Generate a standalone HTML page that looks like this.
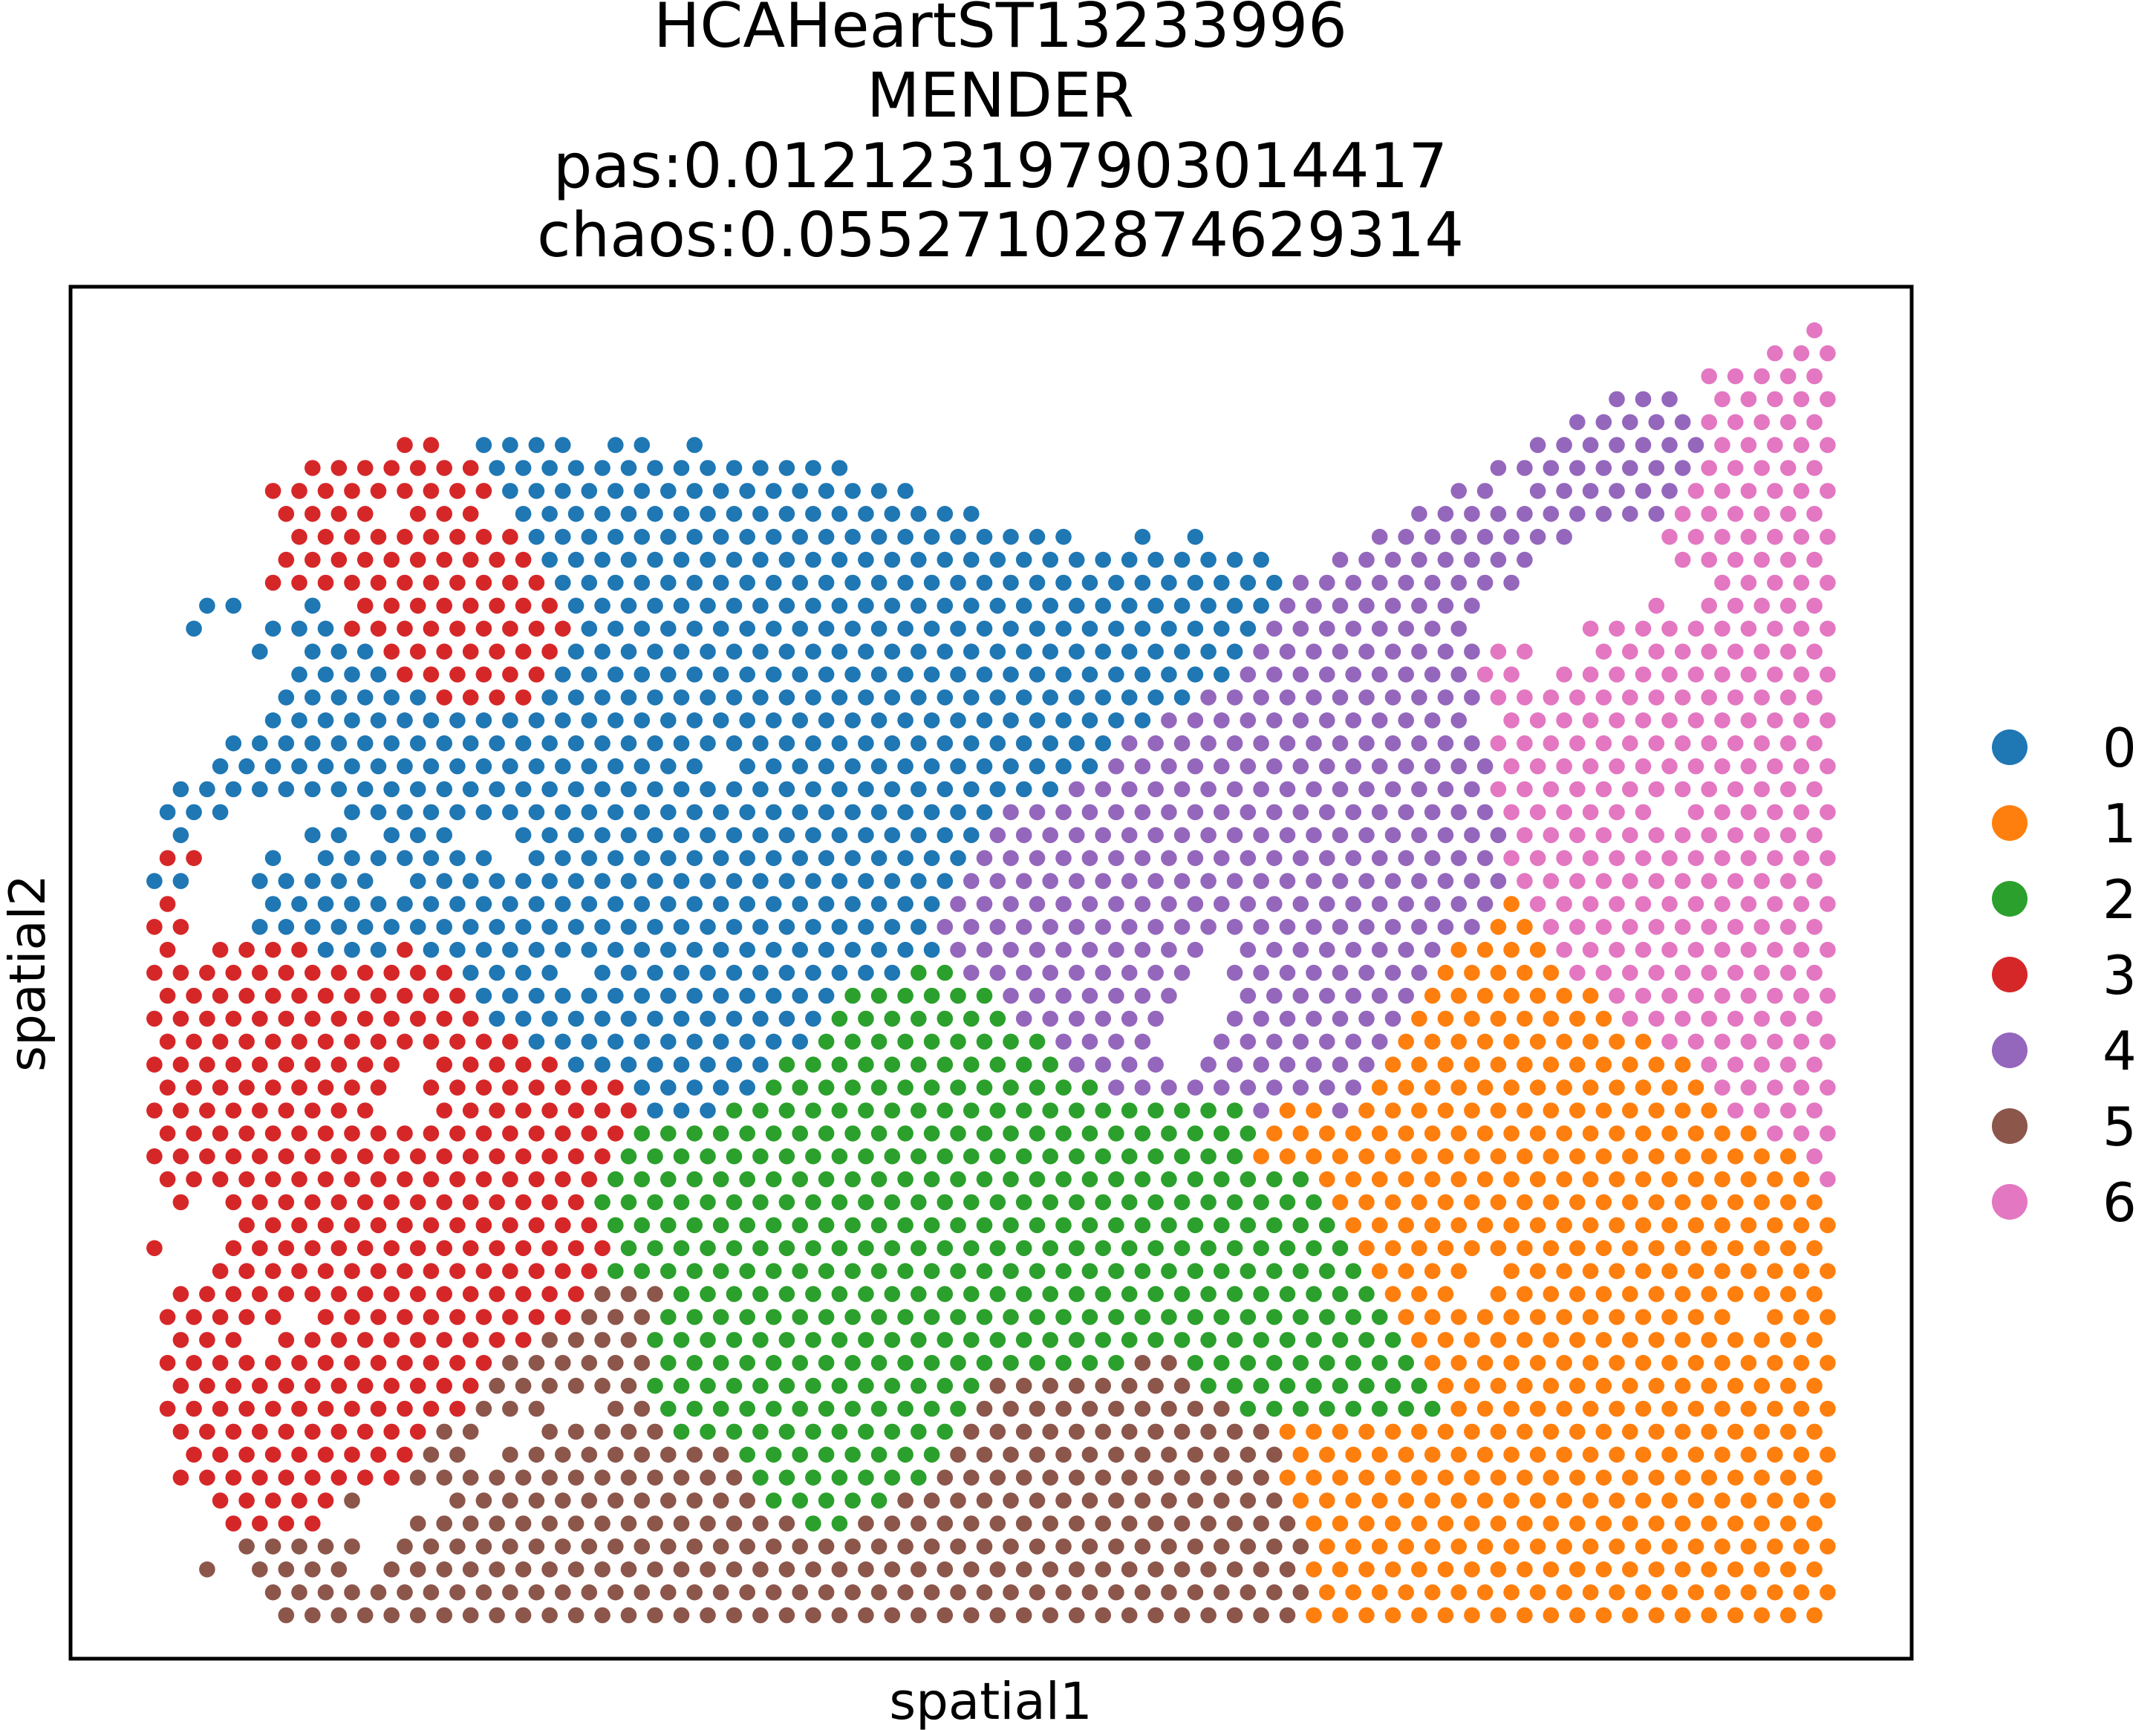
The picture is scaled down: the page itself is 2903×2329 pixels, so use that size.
<!DOCTYPE html>
<html><head><meta charset="utf-8"><style>
html,body{margin:0;padding:0;background:#fff;}
svg{display:block;font-family:"DejaVu Sans","Liberation Sans",sans-serif;}
</style></head><body>
<svg id="chart" width="2903" height="2329" viewBox="0 0 2903 2329" xmlns="http://www.w3.org/2000/svg">
<rect x="0" y="0" width="2903" height="2329" fill="#fff"/>
<g font-size="83" text-anchor="middle" fill="#000">
<text x="1347" y="63">HCAHeartST13233996</text>
<text x="1347" y="157">MENDER</text>
<text x="1347" y="252">pas:0.012123197903014417</text>
<text x="1347" y="345">chaos:0.05527102874629314</text>
</g>
<g id="dots"></g>
<rect x="95" y="386" width="2479" height="1847" fill="none" stroke="#000" stroke-width="5"/>
<text x="1334" y="2314" font-size="69" text-anchor="middle">spatial1</text>
<text x="0" y="0" font-size="67" text-anchor="middle" transform="translate(60,1310) rotate(-90)">spatial2</text>
<g id="legend"></g>
</svg>
<script>
const clusterLabels = ["0","1","2","3","4","5","6"];
const clusterColors = ["#1f77b4","#ff7f0e","#2ca02c","#d62728","#9467bd","#8c564b","#e377c2"];
// run-length encoded spot rows: "<cluster|.><count>" per token, k = 0..63
const spotRows = [
".63 61",".61 63",".59 65",".55 43 .1 65",".54 45 65",
".9 32 .1 04 .1 02 .1 01 .31 47 65",
".6 37 014 .24 48 65",
".4 39 016 .20 42 .1 46 66",
".5 34 .1 33 .1 018 .16 410 66",
".5 39 021 .2 01 .1 01 .6 48 .3 67",
".5 310 028 .2 48 .5 66",
".4 311 028 49 .7 65",
".2 02 .2 01 .1 38 027 48 .6 61 .1 65",
".1 01 .2 03 39 026 48 .4 610",
".4 01 .1 03 37 026 49 62 .2 69",
".5 04 36 026 49 62 .1 611",
".5 06 34 025 411 613",
".4 034 412 .1 613",
".3 034 414 613",
".2 019 .1 014 415 613",
".1 034 416 613",
"03 .4 025 419 66 .1 66",
".1 01 .4 02 .1 03 .2 018 420 612",
"32 .2 01 .1 07 .1 017 420 613",
"02 .2 05 .1 021 421 612",
"31 .3 026 421 11 612",
"32 .2 026 421 12 611",
"31 .1 34 03 31 020 410 .1 48 14 611",
"312 04 .1 012 22 49 .1 48 15 610",
"312 014 26 47 .2 47 17 69",
"313 013 27 46 .2 47 18 68",
"314 011 29 44 .2 47 110 67",
"310 .1 35 08 211 44 .1 47 112 65",
"39 .1 38 05 213 410 113 65",
"39 .2 38 03 220 41 12 41 114 64",
"318 224 119 63",
"318 224 121 61",
"317 227 119 61",
".1 31 .1 314 228 119",
".3 314 228 119",
"31 .2 315 228 118",
".2 315 229 14 .1 113",
".1 316 53 227 13 .1 113",
"35 .1 310 53 228 113 .1 13",
".1 33 .1 310 54 229 116",
"313 56 218 52 29 116",
".1 312 56 213 58 29 115",
"312 53 .2 52 212 510 28 115",
".1 310 52 .2 55 211 512 121",
".1 39 52 .1 59 28 513 121",
".1 39 513 27 513 121",
".2 35 51 .3 512 25 515 121",
".3 34 .3 515 22 517 120",
".3 55 .1 535 120",
".2 51 .1 54 .1 535 120",
".4 540 120",
".5 539 120"
];
const NS = "http://www.w3.org/2000/svg";
function xScale(h){ return 207.9 + 17.74*h; }
function yScale(r){ return 444.7 + 30.89*r; }
const dots = document.getElementById("dots");
spotRows.forEach(function(rowStr, r){
  let k = 0;
  rowStr.split(" ").forEach(function(tok){
    const c = tok[0];
    const n = parseInt(tok.slice(1), 10);
    for (let i = 0; i < n; i++, k++) {
      if (c === ".") continue;
      const ci = parseInt(c, 10);
      const el = document.createElementNS(NS, "circle");
      el.setAttribute("cx", xScale(2*k + (r % 2)).toFixed(1));
      el.setAttribute("cy", yScale(r).toFixed(1));
      el.setAttribute("r", "10.8");
      el.setAttribute("fill", clusterColors[ci]);
      
      
      dots.appendChild(el);
    }
  });
});
const legend = document.getElementById("legend");
clusterLabels.forEach(function(lab, i){
  const g = document.createElementNS(NS, "g");
  
  
  const c = document.createElementNS(NS, "circle");
  c.setAttribute("cx", "2706");
  c.setAttribute("cy", String(1006 + 102*i));
  c.setAttribute("r", "24");
  c.setAttribute("fill", clusterColors[i]);
  
  
  const t = document.createElementNS(NS, "text");
  t.setAttribute("x", "2831");
  t.setAttribute("y", String(1032 + 102*i));
  t.setAttribute("font-size", "72");
  t.textContent = lab;
  
  
  g.appendChild(c); g.appendChild(t);
  legend.appendChild(g);
});
</script>
</body></html>
